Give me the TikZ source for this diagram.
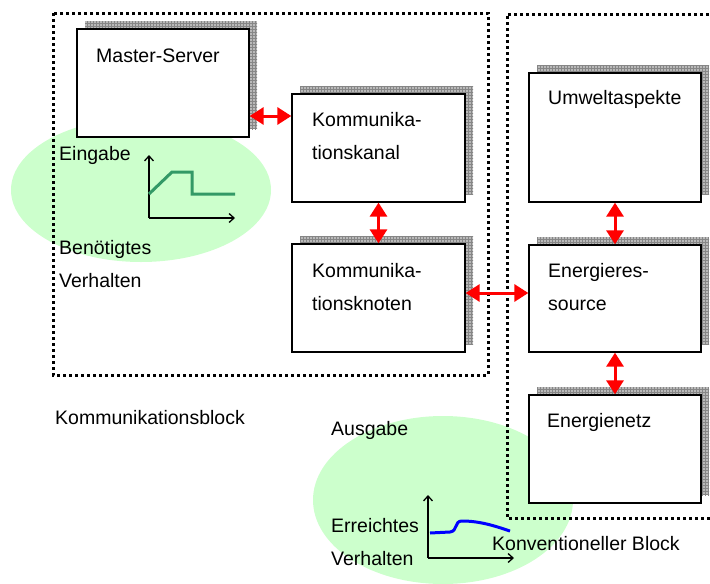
\documentclass[tikz,border=0pt]{standalone}
\usepackage{fontspec}
\setmainfont{Liberation Sans}
\usepackage{xcolor}
\usepackage{tikz}
\usetikzlibrary{positioning, arrows.meta, shadows, patterns}
\definecolor{blobgreen}{RGB}{204,255,204}
\definecolor{inputgreen}{RGB}{51,153,102}
\definecolor{outputblue}{RGB}{0,0,255}

\begin{document}
\begin{tikzpicture}[
  x=1pt, y=-1pt,
  box/.style={rectangle, draw, line width=1.3pt, fill=white, minimum width=172pt, minimum height=108pt, inner sep=0pt,
    general shadow={fill=gray!55, draw=none, shadow xshift=8pt, shadow yshift=8pt},
    general shadow={pattern=grid, pattern color=gray!95, draw=none, shadow xshift=8pt, shadow yshift=8pt}},
  lbl/.style={anchor=base west, inner sep=0pt, align=left, font=\fontsize{19.5}{33}\selectfont},
  frame/.style={line width=3pt, dash pattern=on 3pt off 3pt},
  link/.style={red, line width=3pt, {Triangle[length=14pt, width=17pt]}-{Triangle[length=14pt, width=17pt]}},
  axis/.style={line width=1.3pt, -{Straight Barb[length=5pt, width=9pt]}}
]
\useasboundingbox (0,0) rectangle (710,584);
\clip (0,0) rectangle (710,584);

% green areas
\fill[blobgreen] (141,190) ellipse [x radius=130pt, y radius=72pt];
\fill[blobgreen] (443,500) ellipse [x radius=130pt, y radius=84pt];

% blocks
\draw[frame] (53,13) rectangle (488,375);
\draw[frame] (715,14) -- (507,14) -- (507,518) -- (715,518);

% boxes
\node[box] (master) at (163,83) {};
\node[box, minimum width=173pt] (kanal) at (378.5,148) {};
\node[box, minimum width=173pt] (knoten) at (378.5,298) {};
\node[box, minimum height=129pt] (umwelt) at (615,137.5) {};
\node[box, minimum height=107pt] (ressource) at (615,298.5) {};
\node[box] (netz) at (615,449) {};

% labels (multi-line: base = last line)
\node[lbl] (masterlbl) at (96,62) {Master-Server};
\node[lbl] (kanallbl) at (312,159) {Kommunika-\\tionskanal};
\node[lbl] (knotenlbl) at (312,310) {Kommunika-\\tionsknoten};
\node[lbl] (umweltlbl) at (548,104) {Umweltaspekte};
\node[lbl] (ressourcelbl) at (548,310) {Energieres-\\source};
\node[lbl] (netzlbl) at (547,427) {Energienetz};

% connections
\draw[link] (master.east |- 0,116) -- (kanal.west |- 0,116);
\draw[link] (kanal.south) -- (knoten.north);
\draw[link] (knoten.east |- 0,293) -- (ressource.west |- 0,293);
\draw[link] (umwelt.south) -- (ressource.north);
\draw[link] (ressource.south) -- (netz.north);

% input behaviour
\node[lbl] (eingabe) at (59,160) {Eingabe};
\node[lbl] (benoetigt) at (59,287) {Benötigtes\\Verhalten};
\draw[axis] (149,218) -- (149,155);
\draw[axis] (149,218) -- (235,218);
\draw[inputgreen, line width=3pt] (149,194) -- (172,172) -- (192,172) -- (192,194) -- (235,194);

% output behaviour
\node[lbl] (ausgabe) at (331,435) {Ausgabe};
\node[lbl] (erreicht) at (331,565) {Erreichtes\\Verhalten};
\draw[axis] (428,558) -- (428,495);
\draw[axis] (428,558) -- (514,558);
\draw[outputblue, line width=3pt] (430,533) -- (450,532) .. controls (458,531) and (454,521) .. (462,521) .. controls (480,521) and (495,526) .. (510,531);

% block names
\node[lbl] (kommblock) at (55,424) {Kommunikationsblock};
\node[lbl] (konvblock) at (492,550) {Konventioneller Block};
\end{tikzpicture}
\end{document}
